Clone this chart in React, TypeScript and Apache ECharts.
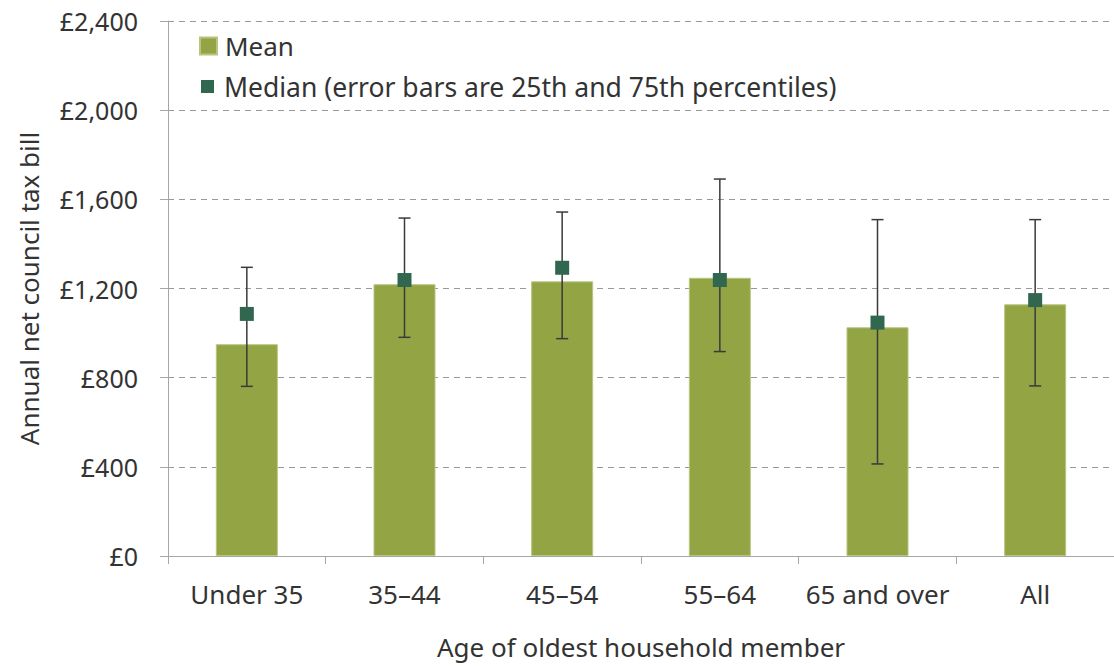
import React, { useEffect, useRef } from "react";
import * as echarts from "echarts";

const categories = ["Under 35", "35–44", "45–54", "55–64", "65 and over", "All"];
const meanValues = [950, 1219, 1232, 1248, 1026, 1129];
const medianValues = [1086, 1238, 1293, 1238, 1047, 1148];
const p25Values = [761, 981, 975, 917, 413, 763];
const p75Values = [1295, 1516, 1543, 1691, 1509, 1509];
const yTicks = [0, 400, 800, 1200, 1600, 2000, 2400];

const MEAN_NAME = "Mean";
const MEDIAN_NAME = "Median (error bars are 25th and 75th percentiles)";

const FONT = "Noto Sans";
const TEXT = "#333333";
const FS = 26;

export default function App() {
  const ref = useRef<HTMLDivElement>(null);
  useEffect(() => {
    if (!ref.current) return;
    const chart = echarts.init(ref.current, undefined, { renderer: "svg" });
    const errData = categories.map((_, i) => [i, p25Values[i], p75Values[i]]);
    chart.setOption({
      animation: false,
      textStyle: { fontFamily: FONT, color: TEXT },
      grid: {
        left: 168,
        top: 21,
        right: 0,
        bottom: 110,
        containLabel: false,
        outerBoundsMode: "none",
      },
      legend: [
        {
          orient: "vertical",
          left: 199,
          top: 33,
          padding: 0,
          itemWidth: 17,
          itemHeight: 17,
          textStyle: { fontFamily: FONT, fontSize: FS, color: TEXT, padding: [0, 0, 0, 3] },
          data: [{ name: MEAN_NAME, icon: "rect" }],
        },
        {
          orient: "vertical",
          left: 201,
          top: 73,
          padding: 0,
          itemWidth: 13,
          itemHeight: 13,
          textStyle: { fontFamily: FONT, fontSize: 26.5, color: TEXT, padding: [0, 0, 0, 5] },
          data: [{ name: MEDIAN_NAME, icon: "rect" }],
        },
      ],
      xAxis: {
        type: "category",
        data: categories,
        name: "Age of oldest household member",
        nameLocation: "middle",
        nameGap: 78,
        nameTextStyle: { fontFamily: FONT, fontSize: FS, color: TEXT, lineHeight: 26 },
        axisLine: { lineStyle: { color: "#a6a6a6", width: 1 } },
        axisTick: { show: true, length: 8, lineStyle: { color: "#a6a6a6" } },
        axisLabel: { fontFamily: FONT, fontSize: FS, color: TEXT, margin: 25, interval: 0 },
      },
      yAxis: {
        type: "value",
        min: yTicks[0],
        max: yTicks[yTicks.length - 1],
        interval: 400,
        name: "Annual net council tax bill",
        nameLocation: "middle",
        nameGap: 126,
        nameTextStyle: { fontFamily: FONT, fontSize: FS, color: TEXT },
        axisLine: { show: true, lineStyle: { color: "#a6a6a6", width: 1 } },
        axisTick: { show: true, length: 8, lineStyle: { color: "#a6a6a6" } },
        axisLabel: {
          fontFamily: FONT,
          fontSize: 25,
          color: TEXT,
          margin: 30,
          formatter: (v: number) => "£" + v.toLocaleString("en-GB"),
        },
        splitLine: { show: true, lineStyle: { color: "#999999", type: [6, 5], width: 1 } },
      },
      series: [
        {
          name: MEAN_NAME,
          type: "bar",
          data: meanValues,
          barWidth: 62,
          itemStyle: { color: "#93a445", borderColor: "#b8c47f", borderWidth: 1 },
          z: 2,
        },
        {
          name: "err",
          type: "custom",
          data: errData,
          z: 3,
          silent: true,
          renderItem: (params: any, api: any) => {
            const lo = api.coord([api.value(0), api.value(1)]);
            const hi = api.coord([api.value(0), api.value(2)]);
            const cap = 6;
            const style = { stroke: "#3a3a3a", lineWidth: 1.5 };
            return {
              type: "group",
              children: [
                { type: "line", shape: { x1: lo[0], y1: lo[1], x2: hi[0], y2: hi[1] }, style },
                { type: "line", shape: { x1: lo[0] - cap, y1: lo[1], x2: lo[0] + cap, y2: lo[1] }, style },
                { type: "line", shape: { x1: hi[0] - cap, y1: hi[1], x2: hi[0] + cap, y2: hi[1] }, style },
              ],
            };
          },
        },
        {
          name: MEDIAN_NAME,
          type: "scatter",
          data: medianValues,
          symbol: "rect",
          symbolSize: 14,
          itemStyle: { color: "#31664f", opacity: 1 },
          z: 4,
        },
      ],
    });
    return () => chart.dispose();
  }, []);
  return (
    <div
      ref={ref}
      style={{ position: "absolute", left: 0, top: 0, width: 1114, height: 666 }}
    />
  );
}
